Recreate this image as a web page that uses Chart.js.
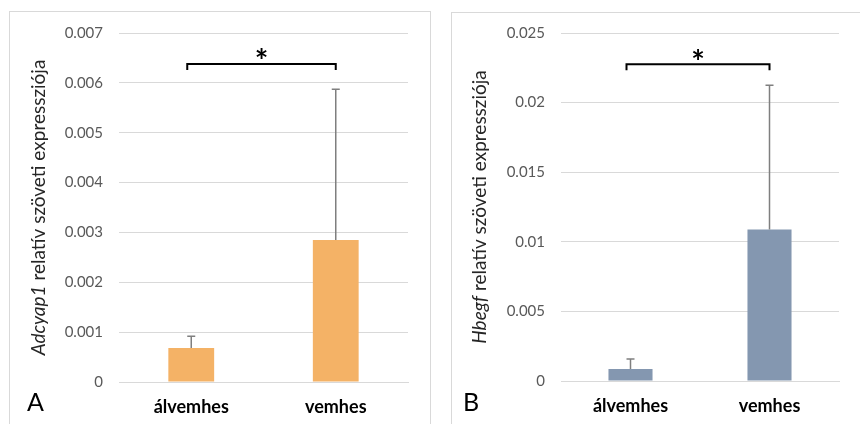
<!DOCTYPE html>
<html>
<head>
<meta charset="utf-8">
<script src="https://cdn.jsdelivr.net/npm/chart.js@4.4.0/dist/chart.umd.min.js"></script>
<style>
  body { margin: 0; background: #fff; width: 860px; height: 424px; overflow: hidden; position: relative; }
  .panel { position: absolute; border: 1px solid #d9d9d9; box-sizing: border-box; }
  #pA { left: 9px; top: 11px; width: 422px; height: 430px; }
  #pB { left: 451px; top: 12px; width: 420px; height: 430px; }
  canvas { position: absolute; left: 0; top: 0; }
</style>
</head>
<body>
<div class="panel" id="pA"><canvas id="chartA" width="420" height="413"></canvas></div>
<div class="panel" id="pB"><canvas id="chartB" width="409" height="411"></canvas></div>
<script>
// adatok
const csoportok = ['álvemhes', 'vemhes'];

const adcyapAtlag = [0.00068, 0.00285];
const adcyapHiba = [0.00024, 0.00302];
const adcyapTicks = [0, 0.001, 0.002, 0.003, 0.004, 0.005, 0.006, 0.007];
const adcyapSzig = 0.00638;

const hbegfAtlag = [0.00086, 0.01089];
const hbegfHiba = [0.00072, 0.01036];
const hbegfTicks = [0, 0.005, 0.01, 0.015, 0.02, 0.025];
const hbegfSzig = 0.02275;

const betu = "Lato, 'Open Sans', sans-serif";

// hibasávok + szignifikancia jel
const extrasPlugin = {
  id: 'extras',
  afterDatasetsDraw(chart, args, opts) {
    const ctx = chart.ctx;
    const meta = chart.getDatasetMeta(0);
    const y = chart.scales.y;
    ctx.save();
    ctx.strokeStyle = '#7f7f7f';
    ctx.lineWidth = 1.5;
    meta.data.forEach((bar, i) => {
      const top = y.getPixelForValue(opts.mean[i] + opts.err[i]);
      ctx.beginPath();
      ctx.moveTo(bar.x, bar.y);
      ctx.lineTo(bar.x, top);
      ctx.moveTo(bar.x - 4, top);
      ctx.lineTo(bar.x + 4, top);
      ctx.stroke();
    });
    // zárójel
    const by = y.getPixelForValue(opts.sig);
    const x1 = meta.data[0].x - 4, x2 = meta.data[1].x;
    ctx.strokeStyle = '#000';
    ctx.lineWidth = 2;
    ctx.beginPath();
    ctx.moveTo(x1, by + 6);
    ctx.lineTo(x1, by);
    ctx.lineTo(x2, by);
    ctx.lineTo(x2, by + 6);
    ctx.stroke();
    ctx.fillStyle = '#000';
    ctx.font = 'bold 32px ' + betu;
    ctx.textAlign = 'center';
    ctx.textBaseline = 'middle';
    ctx.fillText('*', (x1 + x2) / 2, by - 1);

    // tengelycím dőlt génnévvel
    const cx = opts.titleX, cy = (chart.chartArea.top + chart.chartArea.bottom) / 2;
    ctx.translate(cx, cy);
    ctx.rotate(-Math.PI / 2);
    ctx.fillStyle = '#262626';
    ctx.textBaseline = 'middle';
    ctx.textAlign = 'left';
    const f1 = 'italic 19px ' + betu, f2 = '19px ' + betu;
    ctx.font = f1;
    const w1 = ctx.measureText(opts.gene).width;
    ctx.font = f2;
    const w2 = ctx.measureText(opts.rest).width;
    let sx = -(w1 + w2) / 2;
    ctx.font = f1;
    ctx.fillText(opts.gene, sx, 0);
    ctx.font = f2;
    ctx.fillText(opts.rest, sx + w1, 0);
    ctx.restore();

    // panel betű
    ctx.save();
    ctx.fillStyle = '#000';
    ctx.font = '25px ' + betu;
    ctx.textBaseline = 'alphabetic';
    ctx.fillText(opts.letter, opts.letterX, opts.letterY);
    ctx.restore();
  }
};

function makeChart(id, atlag, hiba, ticks, szig, szin, cim, padTop) {
  const maxV = ticks[ticks.length - 1];
  return new Chart(document.getElementById(id), {
    type: 'bar',
    data: {
      labels: csoportok,
      datasets: [{
        data: atlag,
        backgroundColor: szin,
        borderWidth: 0,
        categoryPercentage: 1,
        barPercentage: 0.317
      }]
    },
    plugins: [extrasPlugin],
    options: {
      responsive: false,
      animation: false,
      layout: { padding: { top: padTop, right: 22, left: 0, bottom: 0 } },
      plugins: {
        legend: { display: false },
        tooltip: { enabled: false },
        extras: cim
      },
      scales: {
        x: {
          grid: { display: false },
          border: { display: true, color: '#d9d9d9', width: 1 },
          ticks: { color: '#000', font: { family: betu, size: 18, weight: 'bold' }, padding: 6 },
          afterFit(s) { s.height = 43; s.paddingLeft = 0; s.paddingRight = 0; }
        },
        y: {
          min: 0,
          max: maxV,
          afterBuildTicks(s) { s.ticks = ticks.map(v => ({ value: v })); },
          grid: { color: '#d9d9d9', drawTicks: false },
          border: { display: false },
          ticks: { color: '#595959', font: { family: betu, size: 15 }, padding: 16,
                   callback: v => String(v) },
          afterFit(s) { s.width = 109; s.paddingTop = 0; s.paddingBottom = 0; }
        }
      }
    }
  });
}

makeChart('chartA', adcyapAtlag, adcyapHiba, adcyapTicks, adcyapSzig, '#f4b266',
  { mean: adcyapAtlag, err: adcyapHiba, sig: adcyapSzig, gene: 'Adcyap1',
    rest: ' relatív szöveti expressziója', titleX: 29, letter: 'A', letterX: 17, letterY: 399 }, 21);

makeChart('chartB', hbegfAtlag, hbegfHiba, hbegfTicks, hbegfSzig, '#8497b0',
  { mean: hbegfAtlag, err: hbegfHiba, sig: hbegfSzig, gene: 'Hbegf',
    rest: ' relatív szöveti expressziója', titleX: 28, letter: 'B', letterX: 11, letterY: 398 }, 20);
</script>
</body>
</html>
